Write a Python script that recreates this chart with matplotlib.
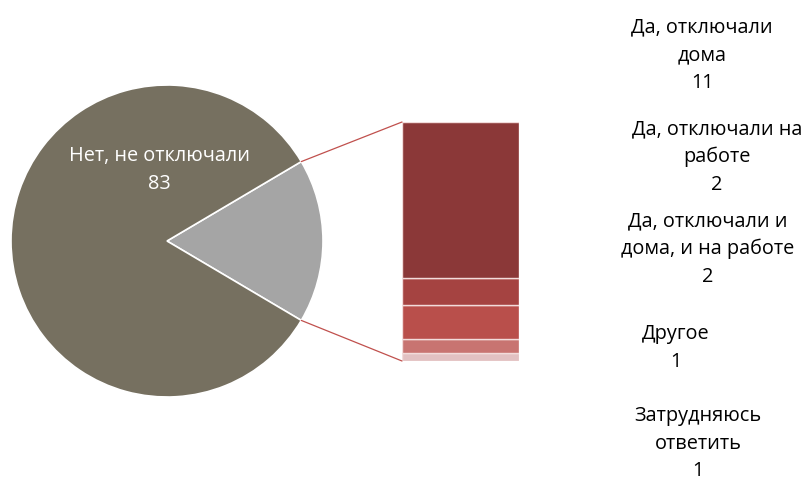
import matplotlib
matplotlib.use("Agg")
import matplotlib.pyplot as plt
from matplotlib.patches import ConnectionPatch
import numpy as np

# Data
pie_labels = ["Да", "Нет, не отключали"]
pie_values = [17.0, 83.0]
bar_labels = ["Да, отключали\nдома", "Да, отключали на\nработе",
              "Да, отключали и\nдома, и на работе", "Другое", "Затрудняюсь\nответить"]
bar_values = [11.1, 1.9, 2.4, 1.0, 0.6]

pie_colors = ["#A5A5A5", "#767060"]
bar_colors = ["#8B3838", "#A54341", "#B94F4B", "#C87471", "#E2C1C2"]

plt.rcParams['font.family'] = ['Open Sans', 'DejaVu Sans']
FS = 14.3
LS = 1.5

W, H = 805, 482
fig = plt.figure(figsize=(W / 100, H / 100), dpi=100)
ax = fig.add_axes([0, 0, 1, 1])

cx, cy, r = 167, 241, 156
start = -pie_values[0] * 3.6 / 2
wedges, _ = ax.pie(pie_values, colors=pie_colors, startangle=start, radius=r,
                   center=(cx, cy), frame=True,
                   wedgeprops=dict(edgecolor="white", linewidth=1.2))
ax.set_xlim(0, W)
ax.set_ylim(0, H)
ax.set_aspect("auto")
ax.axis("off")

ax.text(159, H - 170, f"{pie_labels[1]}\n{pie_values[1]:.0f}", ha="center", va="center",
        color="white", fontsize=FS, linespacing=LS)

# Bar axes
bx0, bx1, by_top, by_bot = 402, 519, 122, 361
bax = fig.add_axes([bx0 / W, (H - by_bot) / H, (bx1 - bx0) / W, (by_bot - by_top) / H])
total = sum(bar_values)
bottom = 0.0
for v, c in zip(bar_values[::-1], bar_colors[::-1]):
    bax.bar(0, v, bottom=bottom, width=1.0, color=c, edgecolor="#F2DCDB", linewidth=1.0)
    bottom += v
bax.set_xlim(-0.5, 0.5)
bax.set_ylim(0, total)
bax.axis("off")

# Connector lines
ang = np.deg2rad(pie_values[0] * 3.6 / 2)
p_up = (cx + r * np.cos(ang), cy + r * np.sin(ang))
p_dn = (cx + r * np.cos(ang), cy - r * np.sin(ang))
for p, yb in [(p_up, total), (p_dn, 0)]:
    con = ConnectionPatch(xyA=p, coordsA=ax.transData, xyB=(-0.5, yb), coordsB=bax.transData,
                          color="#C0504D", linewidth=0.9)
    fig.add_artist(con)

# Bar labels
label_pos = [(702, 55), (717, 157), (708, 249), (676, 348), (698, 444)]
for (lx, ly), lab, v in zip(label_pos, bar_labels, bar_values):
    ax.text(lx, H - ly, f"{lab}\n{v:.0f}", ha="center", va="center",
            color="black", fontsize=FS, linespacing=LS)

fig.savefig("out.png", dpi=100)
